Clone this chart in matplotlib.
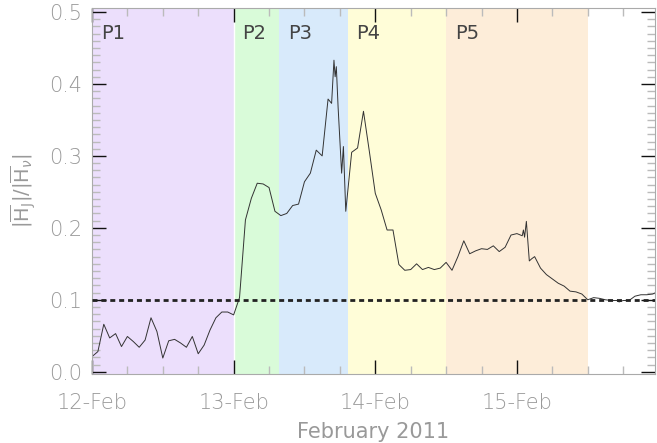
import numpy as np
import matplotlib.pyplot as plt
from matplotlib.ticker import MultipleLocator, FixedLocator

# hours since 12-Feb-2011 00:00
hours = [0, 1, 2, 3, 4, 5, 6, 7, 8, 9, 10, 11, 12, 13, 14, 15, 16, 17, 18, 19,
         20, 21, 22, 23, 24, 25, 26, 27, 28, 29, 30, 31, 32, 33, 34, 35, 36, 37, 38, 39,
         40, 40.6, 41.0, 41.2, 41.4, 41.7, 42.3, 42.6, 43.0,
         44, 45, 46, 47, 48, 49, 50, 51, 52, 53, 54, 55, 56, 57, 58, 59, 60,
         61, 62, 63, 64, 65, 66, 67, 68, 69, 70, 71, 72,
         72.9, 73.1, 73.3, 73.6, 74.1, 74.5, 75.0,
         76, 77, 78, 79, 80, 81, 82, 83, 84, 85, 86, 87, 88, 89, 89.3,
         90, 91, 92, 93, 94, 95, 95.8]
ratio = [0.021, 0.028, 0.066, 0.047, 0.053, 0.035, 0.049, 0.042, 0.034, 0.044,
         0.075, 0.056, 0.019, 0.043, 0.045, 0.040, 0.034, 0.049, 0.025, 0.037,
         0.058, 0.075, 0.083, 0.083, 0.079, 0.103, 0.211, 0.241, 0.262, 0.261,
         0.256, 0.223, 0.217, 0.220, 0.231, 0.233, 0.264, 0.276, 0.308, 0.300,
         0.379, 0.373, 0.433, 0.410, 0.424, 0.368, 0.276, 0.313, 0.223,
         0.305, 0.311, 0.362, 0.306, 0.248, 0.225, 0.197, 0.197, 0.149, 0.141,
         0.142, 0.150, 0.142, 0.145, 0.142, 0.144, 0.152,
         0.141, 0.160, 0.182, 0.164, 0.168, 0.171, 0.170, 0.175, 0.167, 0.173,
         0.190, 0.192,
         0.189, 0.197, 0.187, 0.209, 0.154, 0.157, 0.160,
         0.144, 0.135, 0.129, 0.123, 0.119, 0.112, 0.111, 0.108, 0.100, 0.103,
         0.102, 0.100, 0.099, 0.099, 0.097,
         0.099, 0.099, 0.105, 0.107, 0.107, 0.108, 0.111]

# periods (start, end in hours)
period_names = ['P1', 'P2', 'P3', 'P4', 'P5']
period_start = [0, 24, 31.7, 43.3, 60]
period_end = [24, 31.7, 43.3, 60, 84]
period_colors = ['#ECDFFC', '#D9FBD9', '#D8EAFB', '#FFFDD8', '#FDEDD9']

day_labels = ['12-Feb', '13-Feb', '14-Feb', '15-Feb']
threshold = 0.1

fig = plt.figure(figsize=(6.57, 4.43), dpi=100)
ax = fig.add_axes([0.140, 0.156, 0.857, 0.826])

for name, s, e, c in zip(period_names, period_start, period_end, period_colors):
    ax.axvspan(s, e, color=c, lw=0, zorder=0)
    ax.text(s + 1.5, 0.462, name, fontsize=14, color='#444444', va='baseline')
# thin white gap between P1 and P2
ax.axvline(period_end[0], color='white', lw=1, zorder=1)

ax.plot(hours, ratio, color='#333333', lw=0.7, zorder=2)
ax.axhline(threshold, color='#222222', lw=2, ls=(0, (1.8, 1.4)), zorder=3)

ax.set_xlim(0, 95.4)
ax.set_ylim(-0.003, 0.5056)

ax.xaxis.set_major_locator(FixedLocator([0, 24, 48, 72]))
ax.set_xticklabels(day_labels)
ax.xaxis.set_minor_locator(MultipleLocator(6))
ax.yaxis.set_major_locator(MultipleLocator(0.1))
ax.yaxis.set_minor_locator(MultipleLocator(0.01))
ax.yaxis.set_major_formatter(plt.FormatStrFormatter('%.1f'))

ax.tick_params(which='both', direction='in', top=True, right=True,
               labelsize=15, labelcolor='#999999')
ax.tick_params(which='major', length=10, width=1, color='#111111')
ax.tick_params(which='minor', length=6, width=1, color='#bbbbbb')
ax.tick_params(axis='x', which='major', pad=14)
ax.tick_params(axis='y', which='major', pad=7)
for lab in ax.get_xticklabels() + ax.get_yticklabels():
    lab.set_fontweight('light')

for sp in ax.spines.values():
    sp.set_color('#aaaaaa')

ax.set_xlabel('February 2011', fontsize=15, color='#999999', labelpad=6)
ax.set_ylabel(r'$|\overline{\mathrm{H}}_{\mathrm{J}}|/|\overline{\mathrm{H}}_{\nu}|$',
              fontsize=14, color='#999999', labelpad=8)

fig.savefig('out.png', dpi=100)
